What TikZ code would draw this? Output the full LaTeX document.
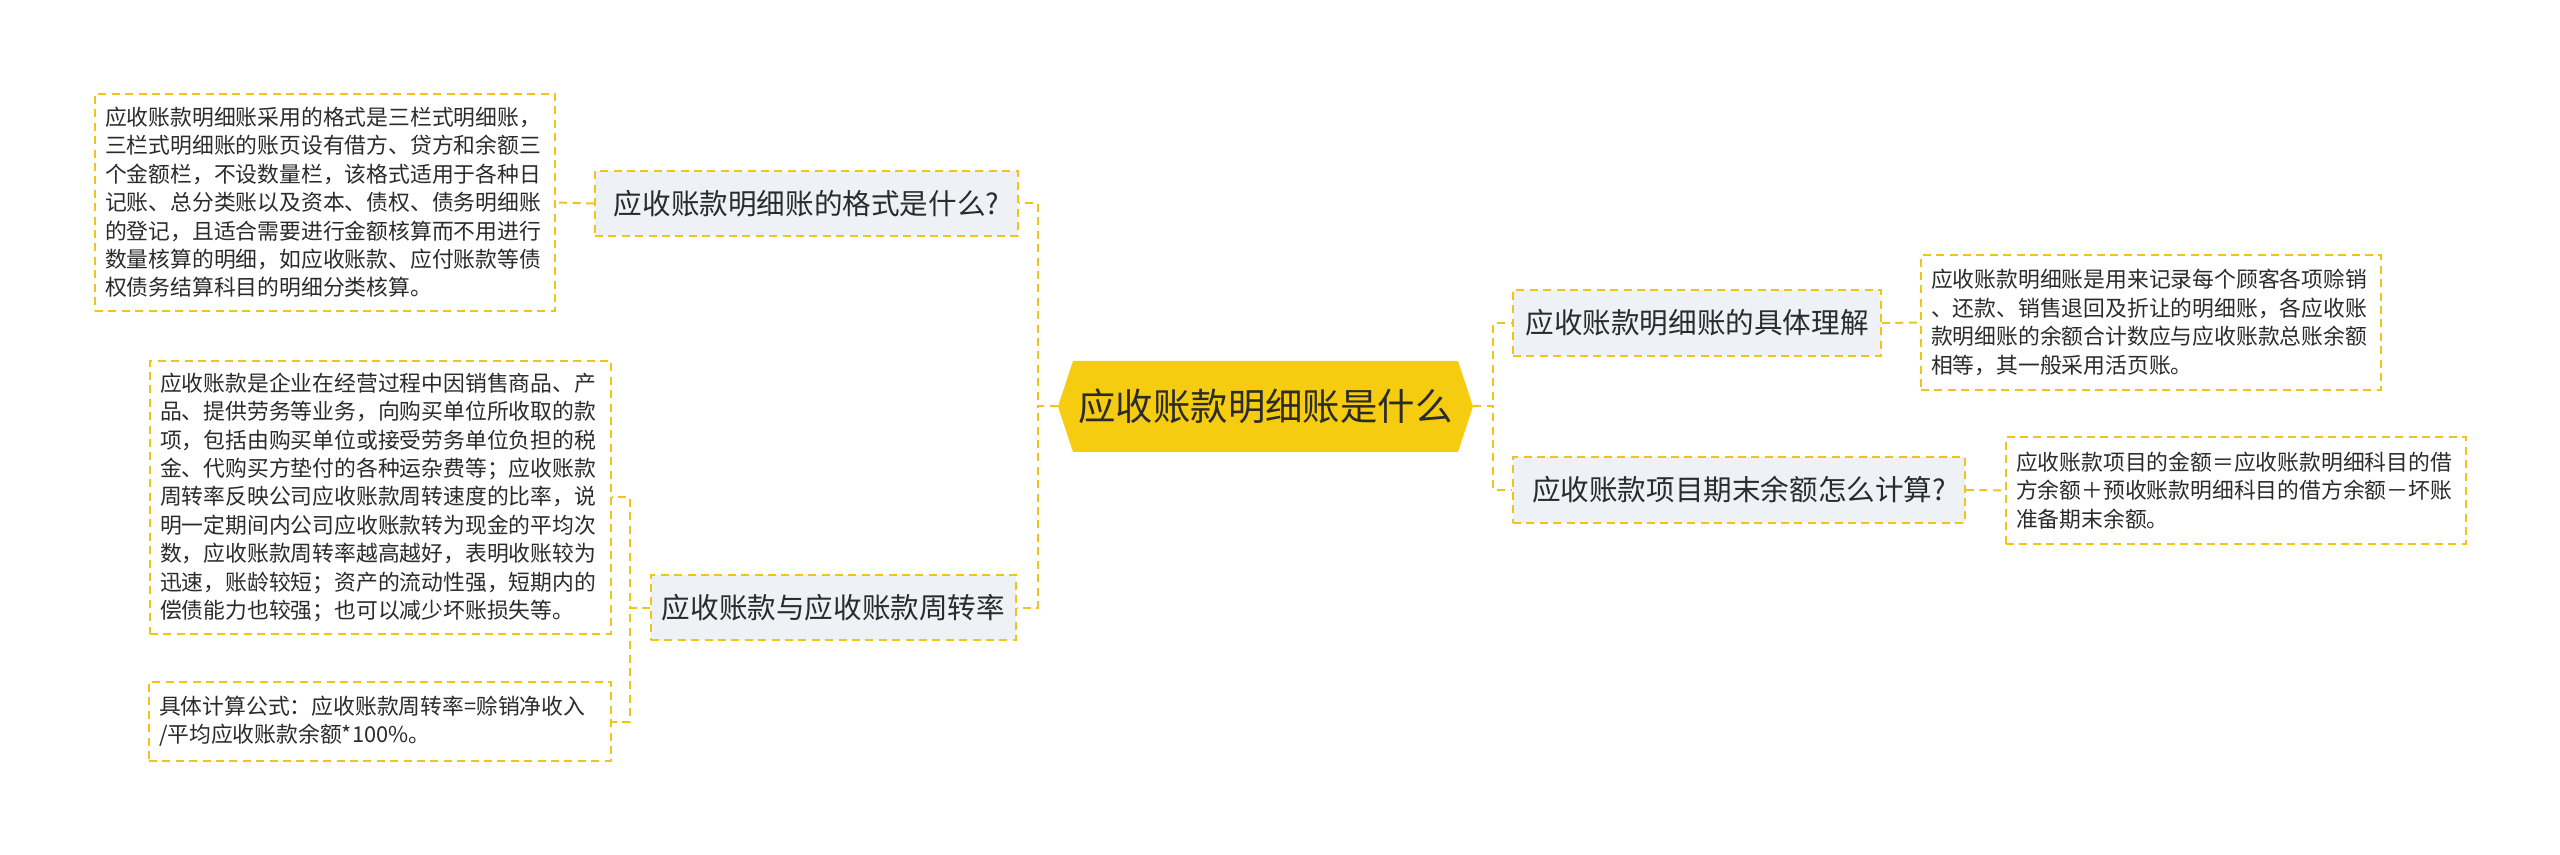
\documentclass[tikz,border=0pt]{standalone}
\usepackage{fontspec}
\setmainfont{Noto Sans CJK SC}
\definecolor{ybord}{HTML}{F0C419}
\definecolor{yfill}{HTML}{F5CC0F}
\definecolor{qfill}{HTML}{EEF1F5}
\definecolor{txt}{HTML}{2B2B2B}
\tikzset{
  conn/.style={draw=ybord, line width=1pt, dash pattern=on 4pt off 2.7pt},
  leaf/.style={draw=ybord, line width=1pt, dash pattern=on 4pt off 2.7pt, fill=white,
    align=left, inner xsep=5pt, inner ysep=0pt, text=txt,
    font=\fontsize{10.9pt}{14.2pt}\selectfont},
  qbox/.style={draw=ybord, line width=1pt, dash pattern=on 4pt off 2.7pt, fill=qfill,
    inner sep=0pt, text=txt, minimum height=32.5pt,
    font=\fontsize{14.3pt}{16pt}\selectfont},
}
\begin{document}
\begin{tikzpicture}[x=0.5pt,y=-0.5pt]
\useasboundingbox (0,0) rectangle (2560,855);
\fill[white] (0,0) rectangle (2560,855);

% main node
\fill[yfill] (1058,406.5) -- (1073,361) -- (1458,361) -- (1473,406.5) -- (1458,452) -- (1073,452) -- cycle;
\node (main) at (1265.5,406.5) [minimum width=207.5pt, minimum height=45.5pt, inner sep=0pt, text=txt,
  font=\fontsize{18.7pt}{20pt}\selectfont] {应收账款明细账是什么};

% question nodes
\node[qbox, minimum width=211.5pt] (q1) at (806.5,203.5) {应收账款明细账的格式是什么?};
\node[qbox, minimum width=182.5pt] (q3) at (833.5,607.5) {应收账款与应收账款周转率};
\node[qbox, minimum width=184pt, minimum height=33pt] (q2) at (1697,323) {应收账款明细账的具体理解};
\node[qbox, minimum width=226pt, minimum height=33pt] (q4) at (1739,490) {应收账款项目期末余额怎么计算?};

% leaf nodes
\node[leaf, text width=220pt, minimum height=108.5pt] (b1) at (325,202.5) {应收账款明细账采用的格式是三栏式明细账，\\三栏式明细账的账页设有借方、贷方和余额三\\个金额栏，不设数量栏，该格式适用于各种日\\记账、总分类账以及资本、债权、债务明细账\\的登记，且适合需要进行金额核算而不用进行\\数量核算的明细，如应收账款、应付账款等债\\权债务结算科目的明细分类核算。};
\node[leaf, text width=220.5pt, minimum height=136.5pt] (b2) at (380.5,497.5) {应收账款是企业在经营过程中因销售商品、产\\品、提供劳务等业务，向购买单位所收取的款\\项，包括由购买单位或接受劳务单位负担的税\\金、代购买方垫付的各种运杂费等；应收账款\\周转率反映公司应收账款周转速度的比率，说\\明一定期间内公司应收账款转为现金的平均次\\数，应收账款周转率越高越好，表明收账较为\\迅速，账龄较短；资产的流动性强，短期内的\\偿债能力也较强；也可以减少坏账损失等。};
\node[leaf, text width=221pt, minimum height=39.5pt] (b3) at (380,721.5) {具体计算公式：应收账款周转率=赊销净收入\\/平均应收账款余额*100\%。};
\node[leaf, text width=220pt, minimum height=67.5pt] (b4) at (2151,322.5) {应收账款明细账是用来记录每个顾客各项赊销\\、还款、销售退回及折让的明细账，各应收账\\款明细账的余额合计数应与应收账款总账余额\\相等，其一般采用活页账。};
\node[leaf, text width=220pt, minimum height=53.5pt] (b5) at (2236,490.5) {应收账款项目的金额＝应收账款明细科目的借\\方余额＋预收账款明细科目的借方余额－坏账\\准备期末余额。};

% connectors
\draw[conn] (main.west) -- ++(-20,0) |- (q1.east);
\draw[conn] (main.west) -- ++(-20,0) |- (q3.east);
\draw[conn] (main.east) -- ++(20,0) |- (q2.west);
\draw[conn] (main.east) -- ++(20,0) |- (q4.west);
\draw[conn] (q1.west) -- (b1.east);
\draw[conn] (q3.west) -- ++(-20,0) |- (b2.east);
\draw[conn] (q3.west) -- ++(-20,0) |- (b3.east);
\draw[conn] (q2.east) -- (b4.west);
\draw[conn] (q4.east) -- (b5.west);
\end{tikzpicture}
\end{document}
